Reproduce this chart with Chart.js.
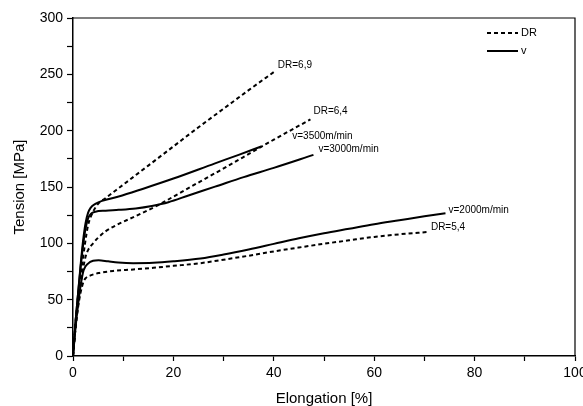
<!DOCTYPE html>
<html>
<head>
<meta charset="utf-8">
<script src="https://cdn.jsdelivr.net/npm/chart.js@4/dist/chart.umd.min.js"></script>
<style>
  html, body { margin: 0; padding: 0; background: #fff; }
  canvas { display: block; }
</style>
</head>
<body>
<canvas id="tension" width="583" height="406"></canvas>
<script>
// Stress-strain curves: [elongation %, tension MPa]
const dr69 = [[0,0],[0.6,35],[1.2,60],[1.8,80],[2.4,100],[3,116],[4,128],[5,135],[6.45,140],[10,152],[15,169],[20,186],[25,203],[30,219.5],[35,236],[40,252]];
const dr64 = [[0,0],[0.5,25],[1,45],[1.5,62],[2,77],[2.5,88],[3,94],[4,100],[5,105],[6.45,110.5],[9,117],[12.4,124],[17,134],[21,144],[25.4,155],[30,166.5],[35.3,180],[40,192],[47.3,210]];
const dr54 = [[0,0],[0.5,25],[1,43],[1.5,56],[2.1,66],[2.5,69],[3.5,71.5],[5.1,73.6],[8,75.5],[12,76.8],[16,78.3],[20,80],[25.4,82.4],[30,85.5],[35,89],[40,92.8],[45,96.3],[50,99.6],[55,102.7],[60,105.7],[65,108],[70.5,110]];
const v3500 = [[0,0],[0.5,30],[1,55],[1.5,80],[2,102],[2.5,118],[3,127],[3.5,131.5],[4.45,135],[6,138],[9.1,141.5],[14,148.5],[20,157.5],[28.3,171],[33,178.5],[37.5,186]];
const v3000 = [[0,0],[0.5,30],[1,55],[1.5,78],[2,98],[2.5,113],[3,122],[3.5,126],[4.45,128],[6.5,129],[9.1,129.7],[12.5,131],[15.7,133.2],[19,136.5],[23,142.5],[28.3,150.3],[34,158.8],[40,167],[47.9,178.5]];
const v2000 = [[0,0],[0.5,25],[1,45],[1.5,62],[2.1,76],[3,82],[4,84.5],[5.1,85],[7,84],[9,83],[12,82.4],[16,82.7],[20,84],[25.4,86.5],[30,90],[35,94.5],[40,99.5],[45,104.5],[50,109],[55,113],[60,117],[65,120.5],[70,124],[74.2,126.8]];

const curveLabels = ["DR=6,9", "DR=6,4", "DR=5,4", "v=3500m/min", "v=3000m/min", "v=2000m/min"];
const xTicks = [0, 20, 40, 60, 80, 100];
const yTicks = [0, 50, 100, 150, 200, 250, 300];

const FONT = "'Liberation Sans', Arial, Helvetica, sans-serif";
const DASH = [4, 3];

const series = [
  { data: dr69, dash: DASH },
  { data: dr64, dash: DASH },
  { data: dr54, dash: DASH },
  { data: v3500, dash: [] },
  { data: v3000, dash: [] },
  { data: v2000, dash: [] },
];

// label offsets from each curve's last point, in px
const labelOffsets = [[4, -7], [3, -8], [4, -5], [31, -10], [5, -6], [3, -3]];

const curveLabelPlugin = {
  id: "curveLabels",
  afterDatasetsDraw(chart) {
    const { ctx, scales } = chart;
    ctx.save();
    ctx.fillStyle = "#000";
    ctx.font = "10px " + FONT;
    ctx.textBaseline = "middle";
    ctx.textAlign = "left";
    series.forEach((s, i) => {
      const last = s.data[s.data.length - 1];
      const px = scales.x.getPixelForValue(last[0]) + labelOffsets[i][0];
      const py = scales.y.getPixelForValue(last[1]) + labelOffsets[i][1];
      ctx.fillText(curveLabels[i], px, py);
    });
    ctx.restore();
  },
};

const framePlugin = {
  id: "frame",
  afterDraw(chart) {
    const { ctx, chartArea: a } = chart;
    ctx.save();
    ctx.strokeStyle = "#000";
    ctx.lineWidth = 1.2;
    ctx.beginPath();
    ctx.moveTo(a.left, a.top);
    ctx.lineTo(a.right, a.top);
    ctx.lineTo(a.right, a.bottom);
    ctx.stroke();

    // legend: line style key
    const lx = a.right - 88, ly = a.top + 15;
    ctx.lineWidth = 2;
    ctx.setLineDash(DASH);
    ctx.beginPath();
    ctx.moveTo(lx, ly);
    ctx.lineTo(lx + 31, ly);
    ctx.stroke();
    ctx.setLineDash([]);
    ctx.beginPath();
    ctx.moveTo(lx, ly + 18);
    ctx.lineTo(lx + 31, ly + 18);
    ctx.stroke();
    ctx.fillStyle = "#000";
    ctx.font = "11px " + FONT;
    ctx.textBaseline = "middle";
    ctx.fillText("DR", lx + 34, ly);
    ctx.fillText("v", lx + 34, ly + 18);
    ctx.restore();
  },
};

new Chart(document.getElementById("tension"), {
  type: "line",
  data: {
    datasets: series.map((s) => ({
      data: s.data.map(([x, y]) => ({ x, y })),
      borderColor: "#000",
      borderWidth: 2,
      borderDash: s.dash,
      pointRadius: 0,
      fill: false,
      cubicInterpolationMode: "monotone",
    })),
  },
  options: {
    responsive: false,
    animation: false,
    layout: { padding: { top: 18, right: 8, left: 0, bottom: 0 } },
    plugins: { legend: { display: false }, tooltip: { enabled: false } },
    scales: {
      x: {
        type: "linear",
        min: 0,
        max: 100,
        afterBuildTicks: (scale) => {
          const t = [];
          for (let v = 0; v <= 100; v += 10) t.push({ value: v });
          scale.ticks = t;
        },
        afterFit: (scale) => {
          scale.height = 50;
          scale.paddingLeft = 0;
          scale.paddingRight = 0;
        },
        border: { color: "#000", width: 1.5 },
        grid: { drawOnChartArea: false, tickLength: 5, tickColor: "#000", tickWidth: 1.2 },
        ticks: {
          color: "#000",
          font: { family: FONT, size: 14 },
          padding: 4,
          maxRotation: 0,
          autoSkip: false,
          callback: (v) => (xTicks.includes(v) ? String(v) : ""),
        },
        title: {
          display: true,
          text: "Elongation [%]",
          color: "#000",
          font: { family: FONT, size: 15 },
          padding: { top: 2, bottom: -2 },
        },
      },
      y: {
        type: "linear",
        min: 0,
        max: 300,
        afterBuildTicks: (scale) => {
          const t = [];
          for (let v = 0; v <= 300; v += 25) t.push({ value: v });
          scale.ticks = t;
        },
        afterFit: (scale) => {
          scale.width = 73;
        },
        border: { color: "#000", width: 1.5 },
        grid: { drawOnChartArea: false, tickLength: 6, tickColor: "#000", tickWidth: 1.2 },
        ticks: {
          color: "#000",
          font: { family: FONT, size: 14 },
          padding: 4,
          autoSkip: false,
          callback: (v) => (yTicks.includes(v) ? String(v) : ""),
        },
        title: {
          display: true,
          text: "Tension [MPa]",
          color: "#000",
          font: { family: FONT, size: 15 },
          padding: { top: 11, bottom: 0 },
        },
      },
    },
  },
  plugins: [curveLabelPlugin, framePlugin],
});
</script>
</body>
</html>
